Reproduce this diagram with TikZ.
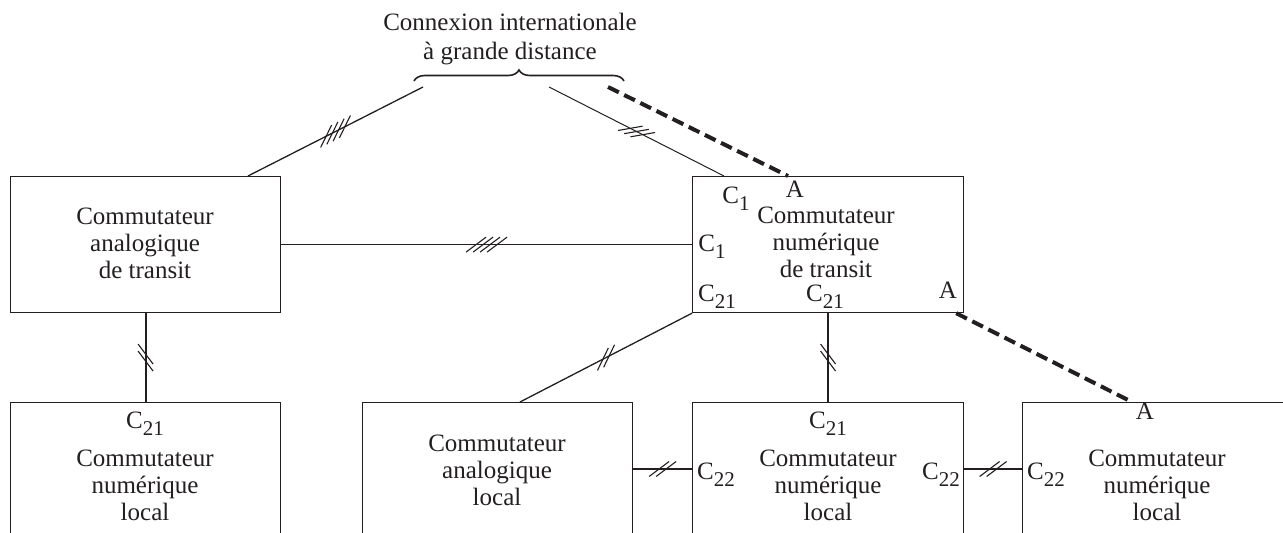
\documentclass[tikz,border=0pt]{standalone}
\usepackage{fontspec}
\setmainfont{Liberation Serif}
\usetikzlibrary{decorations.pathreplacing,decorations.markings}
\definecolor{ink}{HTML}{231F20}
\newcommand\lowidx[1]{\raisebox{-7pt}{\fontsize{21}{21}\selectfont #1}}
\tikzset{
  box/.style={draw=ink, line width=1.2pt, minimum width=270pt, anchor=north west, inner sep=0pt},
  txt/.style={align=center, font=\fontsize{25}{27}\selectfont, text=ink, inner sep=0pt},
  lbl/.style={font=\fontsize{25}{27}\selectfont, text=ink, inner sep=0pt, text height=17pt, text depth=0pt},
  link/.style={draw=ink, line width=1.3pt},
  lease/.style={draw=ink, line width=4pt, dash pattern=on 12pt off 6pt},
  ticks/.style={postaction={decorate, decoration={markings, mark=at position 0.5 with {
      \foreach \k in {1,...,#1}
        \draw[ink, line width=1.1pt] ({(\k-(#1+1)/2)*7pt-10pt},-7.5pt) -- ++(20pt,15pt);}}}}
}
\begin{document}
\begin{tikzpicture}[x=1pt, y=-1pt]
    \useasboundingbox (0,0) rectangle (1283,533);
    \clip (0,0) rectangle (1283,533);

    % switches
    \node[box, minimum height=136pt] (lt) at (10,176) {};
    \node[box, minimum width=271pt, minimum height=136pt] (rt) at (692,176) {};
    \node[box, minimum height=170pt] (lb) at (10,402) {};
    \node[box, minimum height=170pt] (al) at (362,402) {};
    \node[box, minimum width=271pt, minimum height=170pt] (ml) at (692,402) {};
    \node[box, minimum width=290pt, minimum height=170pt] (rl) at (1022,402) {};

    \node[txt] (ltxt) at (145,243) {Commutateur\\analogique\\de transit};
    \node[txt] (rtxt) at (826,242) {Commutateur\\numérique\\de transit};
    \node[txt] (lbtxt) at (145,485) {Commutateur\\numérique\\local};
    \node[txt] (altxt) at (497,470) {Commutateur\\analogique\\local};
    \node[txt] (mltxt) at (828,485) {Commutateur\\numérique\\local};
    \node[txt] (rltxt) at (1157,485) {Commutateur\\numérique\\local};

    % brace and far connection
    \node[txt, font=\fontsize{25}{29}\selectfont] (intl) at (510,39) {Connexion internationale\\à grande distance};
    \draw[ink, line width=1.6pt, decorate, decoration={brace, amplitude=11pt}] (414,81) -- (624,81);
    \coordinate (bl) at (423,87);
    \coordinate (br) at (549,87);
    \coordinate (bd) at (608,87);

    % port labels
    \node[lbl] (c1a) at (736,195) {C\lowidx{1}};
    \node[lbl] (a1) at (795,189) {A};
    \node[lbl] (c1b) at (712,243) {C\lowidx{1}};
    \node[lbl] (c21a) at (717,293) {C\lowidx{21}};
    \node[lbl] (c21b) at (825,293) {C\lowidx{21}};
    \node[lbl] (a2) at (948,290) {A};
    \node[lbl] (c21c) at (145,420) {C\lowidx{21}};
    \node[lbl] (c21d) at (828,420) {C\lowidx{21}};
    \node[lbl] (c22a) at (716,471) {C\lowidx{22}};
    \node[lbl] (c22b) at (941,471) {C\lowidx{22}};
    \node[lbl] (c22c) at (1046,471) {C\lowidx{22}};
    \node[lbl] (a3) at (1145,411) {A};

    % links
    \draw[link, ticks=4] ([xshift=238pt]lt.north west) -- (bl);
    \draw[link, line width=1pt, ticks=3] (br) -- ([xshift=32pt]rt.north west);
    \draw[lease] (bd) -- ([xshift=96pt]rt.north west);
    \draw[link, ticks=4] (lt.east) -- (rt.west);
    \draw[link, line width=1.8pt, ticks=2] (lt.south) -- (lb.north);
    \draw[link, ticks=2] (rt.south west) -- ([xshift=158pt]al.north west);
    \draw[link, ticks=2] (ml.north |- rt.south) -- (ml.north);
    \draw[lease] ([xshift=-8pt]rt.south east) -- ([xshift=110pt]rl.north west);
    \draw[link, line width=2.2pt, ticks=2] ([yshift=-67pt]al.north east) -- ([yshift=-67pt]ml.north west);
    \draw[link, line width=2.2pt, ticks=2] ([yshift=-67pt]ml.north east) -- ([yshift=-67pt]rl.north west);
\end{tikzpicture}
\end{document}
